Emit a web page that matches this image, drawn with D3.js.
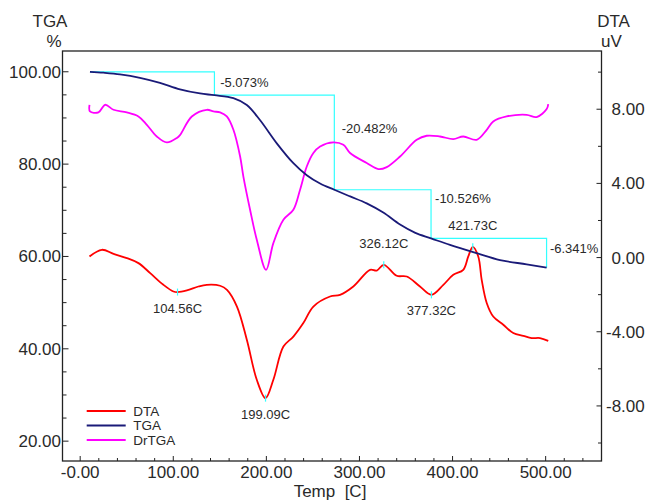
<!DOCTYPE html>
<html>
<head>
<meta charset="utf-8">
<script src="https://cdn.jsdelivr.net/npm/d3@7"></script>
<style>
  html, body { margin: 0; padding: 0; background: #fff; }
  svg { display: block; font-family: "Liberation Sans", Arial, sans-serif; }
</style>
</head>
<body>
<svg id="chart" width="651" height="501"></svg>
<script>
// ---- Thermal analysis data: temperature [C] ----
const tgaTemp = [10.5, 25.0, 42.8, 64.2, 85.7, 107.2, 128.7, 144.2, 164.6, 179.0, 193.3, 211.2, 229.0, 243.4, 257.7, 273.0, 290.0, 307.8, 325.6, 343.6, 360.0, 376.9, 397.2, 425.9, 451.0, 479.6, 501.0];
const tgaPct  = [100.0, 99.8, 99.44, 98.7, 97.6, 96.2, 95.3, 94.93, 94.3, 92.8, 89.5, 84.5, 80.2, 77.6, 75.8, 74.45, 73.0, 71.5, 69.5, 66.9, 65.1, 63.92, 62.5, 60.7, 59.2, 58.3, 57.58];

const dtaTemp = [10.0, 23.3, 35.8, 50.1, 62.6, 75.2, 89.4, 100.2, 104.56, 114.6, 127.0, 136.0, 150.3, 157.7, 168.4, 179.0, 189.7, 199.09, 207.5, 218.3, 229.0, 239.7, 250.5, 268.4, 279.1, 293.4, 311.4, 318.6, 326.12, 340.0, 350.8, 365.0, 377.32, 390.1, 400.8, 411.5, 416.9, 421.73, 427.6, 431.3, 436.7, 443.7, 454.5, 465.2, 476.0, 485.0, 493.9, 502.8];
const dtaUV   = [0.06, 0.42, 0.20, -0.03, -0.30, -0.84, -1.47, -1.83, -1.86, -1.77, -1.56, -1.47, -1.52, -1.74, -2.64, -4.43, -6.59, -7.58, -6.59, -4.80, -4.26, -3.53, -2.64, -2.10, -2.01, -1.56, -0.66, -0.70, -0.39, -0.98, -1.02, -1.56, -2.01, -1.47, -0.93, -0.66, 0.06, 0.58, 0.06, -1.20, -2.45, -3.18, -3.62, -4.07, -4.22, -4.34, -4.34, -4.49];

// DrTGA, drawn against the DTA (right) axis units
const drTemp = [10.0, 10.5, 19.6, 26.8, 35.8, 50.1, 62.6, 71.6, 82.3, 93.1, 103.8, 107.4, 119.9, 136.0, 143.1, 150.3, 157.5, 164.6, 171.8, 175.3, 182.5, 189.7, 199.7, 207.5, 218.3, 229.0, 236.2, 243.4, 250.5, 257.7, 272.0, 282.7, 289.9, 307.8, 320.3, 329.3, 343.6, 361.5, 372.2, 386.5, 400.8, 411.5, 425.9, 436.7, 443.7, 458.1, 479.6, 490.3, 501.1, 502.8];
const drVal  = [8.24, 7.88, 7.83, 8.24, 7.97, 7.83, 7.61, 7.16, 6.53, 6.21, 6.45, 6.62, 7.61, 7.97, 7.88, 7.83, 7.61, 6.89, 5.45, 4.37, 2.58, 0.96, -0.66, 0.78, 2.04, 2.58, 3.66, 4.91, 5.64, 5.99, 6.21, 6.08, 5.64, 5.10, 4.77, 4.88, 5.45, 6.35, 6.57, 6.53, 6.39, 6.53, 6.35, 6.89, 7.34, 7.61, 7.70, 7.58, 8.01, 8.28];

// TGA mass-loss steps
const stepTemps  = [10.5, 144.2, 273.0, 376.9, 501.0];
const stepLosses = [-5.073, -20.482, -10.526, -6.341];

// DTA peak temperatures and whether each is a minimum or maximum
const peakTemps = [104.56, 199.09, 326.12, 377.32, 421.73];
const peakKinds = ["min", "min", "max", "min", "max"];

// Axis ticks and labels
const xTicks       = [0, 100, 200, 300, 400, 500];
const xTickLabels  = ["-0.00", "100.00", "200.00", "300.00", "400.00", "500.00"];
const yLTicks      = [20, 40, 60, 80, 100];
const yLTickLabels = ["20.00", "40.00", "60.00", "80.00", "100.00"];
const yRTicks      = [-8, -4, 0, 4, 8];
const yRTickLabels = ["-8.00", "-4.00", "0.00", "4.00", "8.00"];

const seriesNames  = ["DTA", "TGA", "DrTGA"];
const seriesColors = ["#ff0000", "#1a1a78", "#ff00ff"];
const stepColor = "#33ffff";
const textColor = "#2a2a2a";

// ---- Layout ----
const plot = { left: 62.5, right: 601.5, top: 51, bottom: 461 };
const svg = d3.select("#chart");

const x  = d3.scaleLinear().domain([-19, 560]).range([plot.left, plot.right]);
const yL = d3.scaleLinear().domain([15.7, 104.5]).range([plot.bottom, plot.top]);
const yR = d3.scaleLinear().domain([-10.97, 11.14]).range([plot.bottom, plot.top]);

// ---- Axes (ticks point inward) ----
const axisG = svg.append("g").attr("stroke", "#222").attr("stroke-width", 1);

// x ticks
d3.range(-20, 561, 20).forEach(t => {
  if (t < -19 || t > 560) return;
  const major = t % 100 === 0;
  axisG.append("line")
    .attr("x1", x(t)).attr("x2", x(t))
    .attr("y1", plot.bottom).attr("y2", plot.bottom - (major ? 5 : 3));
});
// left ticks
d3.range(20, 105, 5).forEach(v => {
  const major = v % 20 === 0;
  axisG.append("line")
    .attr("x1", plot.left).attr("x2", plot.left + (major ? 6 : 4))
    .attr("y1", yL(v)).attr("y2", yL(v));
});
// right ticks
d3.range(-10, 11, 2).forEach(v => {
  const major = v % 4 === 0;
  axisG.append("line")
    .attr("x1", plot.right).attr("x2", plot.right - (major ? 5 : 3.5))
    .attr("y1", yR(v)).attr("y2", yR(v));
});

// frame
svg.append("rect")
  .attr("x", plot.left).attr("y", plot.top)
  .attr("width", plot.right - plot.left).attr("height", plot.bottom - plot.top)
  .attr("fill", "none").attr("stroke", "#222").attr("stroke-width", 1.3);

// tick labels
const tickFont = 17;
svg.append("g").selectAll("text").data(xTicks).join("text")
  .attr("x", d => x(d)).attr("y", 478)
  .attr("text-anchor", "middle").attr("font-size", tickFont).attr("fill", textColor)
  .text((d, i) => xTickLabels[i]);
svg.append("g").selectAll("text").data(yLTicks).join("text")
  .attr("x", plot.left - 1.5).attr("y", d => yL(d) + 6)
  .attr("text-anchor", "end").attr("font-size", tickFont).attr("fill", textColor)
  .text((d, i) => yLTickLabels[i]);
svg.append("g").selectAll("text").data(yRTicks).join("text")
  .attr("x", d => d < 0 ? 606 : 611.5).attr("y", d => yR(d) + 6)
  .attr("text-anchor", "start").attr("font-size", tickFont).attr("fill", textColor)
  .text((d, i) => yRTickLabels[i]);

// axis titles
const title = (tx, ty, s) => svg.append("text")
  .attr("x", tx).attr("y", ty).attr("text-anchor", "middle")
  .attr("font-size", 17).attr("fill", textColor).text(s);
title(50, 27, "TGA");
title(54, 47, "%");
title(613.5, 27, "DTA");
title(611.5, 47, "uV");
svg.append("text").attr("x", 330).attr("y", 497).attr("text-anchor", "middle")
  .attr("font-size", 17).attr("fill", textColor).attr("xml:space", "preserve")
  .text("Temp  [C]");

// ---- TGA step lines ----
const levels = [tgaPct[0]];
stepLosses.forEach(l => levels.push(levels[levels.length - 1] + l));
const stepPath = d3.path();
stepPath.moveTo(x(stepTemps[0]), yL(levels[0]));
for (let i = 0; i < stepLosses.length; i++) {
  stepPath.lineTo(x(stepTemps[i + 1]), yL(levels[i]));
  stepPath.lineTo(x(stepTemps[i + 1]), yL(levels[i + 1]));
}
svg.append("path").attr("d", stepPath.toString())
  .attr("fill", "none").attr("stroke", stepColor).attr("stroke-width", 1.2);

const stepLabelDy = [15.6, 37.4, 13.4, 14.7];
const stepLabelDx = [5.7, 7.4, 4.0, 3.3];
stepLosses.forEach((l, i) => {
  svg.append("text")
    .attr("x", x(stepTemps[i + 1]) + stepLabelDx[i])
    .attr("y", yL(levels[i]) + stepLabelDy[i])
    .attr("font-size", 13).attr("fill", textColor)
    .text(l.toFixed(3) + "%");
});

// ---- Curves ----
const lineOf = (xs, ys, yScale, curve) => d3.line()
  .x((d, i) => x(xs[i])).y((d, i) => yScale(ys[i])).curve(curve)(xs);

svg.append("path")
  .attr("d", lineOf(drTemp, drVal, yR, d3.curveCatmullRom.alpha(0.5)))
  .attr("fill", "none").attr("stroke", seriesColors[2]).attr("stroke-width", 1.8);
svg.append("path")
  .attr("d", lineOf(dtaTemp, dtaUV, yR, d3.curveCatmullRom.alpha(0.5)))
  .attr("fill", "none").attr("stroke", seriesColors[0]).attr("stroke-width", 1.8);
svg.append("path")
  .attr("d", lineOf(tgaTemp, tgaPct, yL, d3.curveCatmullRom.alpha(0.5)))
  .attr("fill", "none").attr("stroke", seriesColors[1]).attr("stroke-width", 1.8);

// ---- DTA peak markers and labels ----
peakTemps.forEach((t, i) => {
  const v = dtaUV[dtaTemp.indexOf(t)];
  const px = x(t), py = yR(v);
  svg.append("line")
    .attr("x1", px).attr("x2", px).attr("y1", py - 3.5).attr("y2", py + 3.5)
    .attr("stroke", stepColor).attr("stroke-width", 1.2);
  const isMin = peakKinds[i] === "min";
  svg.append("text")
    .attr("x", px).attr("y", isMin ? py + 20.5 : py - 17)
    .attr("text-anchor", "middle").attr("font-size", 13).attr("fill", textColor)
    .text(t.toFixed(2) + "C");
});

// ---- Legend ----
const legend = svg.append("g");
seriesNames.forEach((n, i) => {
  const ly = 411 + i * 14.5;
  legend.append("line")
    .attr("x1", 86.7).attr("x2", 125.7).attr("y1", ly).attr("y2", ly)
    .attr("stroke", seriesColors[i]).attr("stroke-width", 2);
  legend.append("text")
    .attr("x", 133.3).attr("y", ly + 4.8)
    .attr("font-size", 13.5).attr("fill", textColor).text(n);
});
</script>
</body>
</html>
